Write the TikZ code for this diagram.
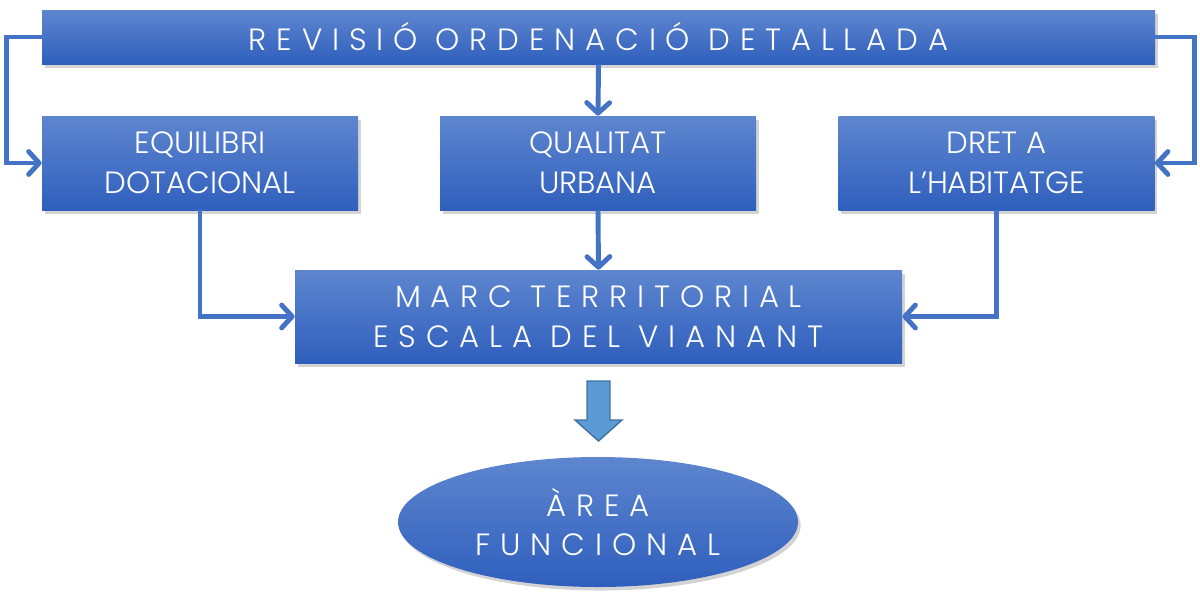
\documentclass[tikz,border=0pt]{standalone}
\usepackage{fontspec}
\setmainfont{Poppins Light}
\usetikzlibrary{arrows.meta,shadows,shapes.geometric}
\definecolor{boxtop}{HTML}{5E86CF}
\definecolor{boxbot}{HTML}{2F5FBD}
\definecolor{linkblue}{HTML}{4472C4}
\definecolor{bigarrow}{HTML}{5B9BD5}
\definecolor{bigarrowedge}{HTML}{41719C}
\begin{document}
\begin{tikzpicture}[
    box/.style={top color=boxtop, bottom color=boxbot, text=white,
      align=center, inner sep=0pt,
      drop shadow={shadow xshift=1.5pt, shadow yshift=-2pt, opacity=0.35}},
    plain/.style={font=\fontsize{17.5}{22.5}\selectfont},
    wide/.style={font=\fontsize{17.5}{22.5}\selectfont\addfontfeature{LetterSpace=32}},
    link/.style={draw=linkblue, line width=2.8pt, -{Straight Barb[length=6pt,width=13pt,round]}}
  ]
  \useasboundingbox (0,0) rectangle (24,12.08);
  \node[box, wide, minimum width=22.26cm, minimum height=1.08cm] (top) at (11.97,11.34) {REVISIÓ ORDENACIÓ DETALLADA};
  \node[box, plain, minimum width=6.32cm, minimum height=1.88cm] (equil) at (4.0,8.82) {EQUILIBRI\\DOTACIONAL};
  \node[box, plain, minimum width=6.32cm, minimum height=1.88cm] (qual) at (11.96,8.82) {QUALITAT\\URBANA};
  \node[box, plain, minimum width=6.32cm, minimum height=1.88cm] (dret) at (19.93,8.82) {DRET A\\L’HABITATGE};
  \node[box, wide, minimum width=12.14cm, minimum height=1.86cm] (marc) at (11.97,5.75) {MARC TERRITORIAL\\ESCALA DEL VIANANT};
  \node[box, ellipse, wide, minimum width=8cm, minimum height=2.6cm] (area) at (11.96,1.64) {ÀREA\\FUNCIONAL};
  % block arrow
  \draw[fill=bigarrow, draw=bigarrowedge, line width=0.8pt, line join=miter]
    (11.74,4.46) -- (12.2,4.46) -- (12.2,3.68) -- (12.44,3.68) -- (11.97,3.26)
    -- (11.5,3.68) -- (11.74,3.68) -- cycle;
  \begin{scope}[link]
    \draw (top.west) -- ++(-0.7,0) |- (equil.west);
    \draw (top.east) -- ++(0.78,0) |- (dret.east);
    \draw (top.south) -- (qual.north);
    \draw (equil.south) |- (marc.west);
    \draw (qual.south) -- (marc.north);
    \draw (dret.south) |- (marc.east);
  \end{scope}
\end{tikzpicture}
\end{document}
